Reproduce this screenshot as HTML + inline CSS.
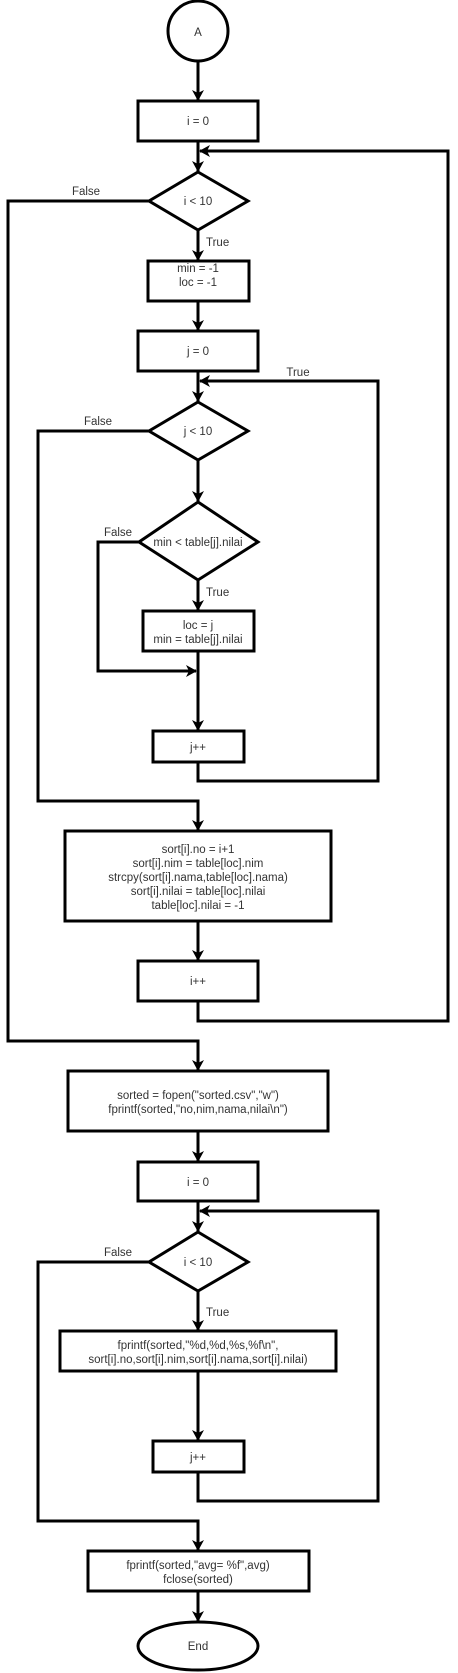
<!DOCTYPE html>
<html><head><meta charset="utf-8"><style>
html,body{margin:0;padding:0;background:#fff;}
svg{display:block;}
text{font-family:"Liberation Sans",Arial,sans-serif;font-size:11.5px;fill:#333;text-anchor:middle;}
.l{text-anchor:start;}
</style></head><body>
<svg width="458" height="1673" viewBox="0 0 458 1673" xmlns="http://www.w3.org/2000/svg">
<defs>
<marker id="a" markerWidth="12" markerHeight="12" refX="10" refY="6" orient="auto" markerUnits="userSpaceOnUse">
<path d="M0,0 L11,6 L0,12 L3,6 Z" fill="#000"/>
</marker>
</defs>
<g fill="none" stroke="#000" stroke-width="3">
<circle cx="198" cy="31" r="30" fill="#fff"/>
<line x1="198" y1="61" x2="198" y2="100" marker-end="url(#a)"/>
<rect x="138" y="101" width="120" height="40"/>
<line x1="198" y1="141" x2="198" y2="171" marker-end="url(#a)"/>
<polyline points="198,1001 198,1021 448,1021 448,151 200,151" marker-end="url(#a)"/>
<polygon points="198,172 248,201 198,230 149,201"/>
<line x1="198" y1="230" x2="198" y2="260" marker-end="url(#a)"/>
<polyline points="149,201 8,201 8,1041 198,1041 198,1070" marker-end="url(#a)"/>
<rect x="148" y="261" width="101" height="40"/>
<line x1="198" y1="301" x2="198" y2="330" marker-end="url(#a)"/>
<rect x="138" y="331" width="120" height="40"/>
<line x1="198" y1="371" x2="198" y2="401" marker-end="url(#a)"/>
<polyline points="198,762 198,781 378,781 378,381 200,381" marker-end="url(#a)"/>
<polygon points="198,402 248,431 198,460 149,431"/>
<line x1="198" y1="460" x2="198" y2="501" marker-end="url(#a)"/>
<polyline points="149,431 38,431 38,801 198,801 198,830" marker-end="url(#a)"/>
<polygon points="198,502 258,542 198,580 139,542"/>
<line x1="198" y1="580" x2="198" y2="610" marker-end="url(#a)"/>
<polyline points="139,542 98,542 98,671 196,671" marker-end="url(#a)"/>
<rect x="143" y="611" width="111" height="40"/>
<line x1="198" y1="651" x2="198" y2="730" marker-end="url(#a)"/>
<rect x="153" y="731" width="91" height="31"/>
<rect x="65" y="831" width="266" height="90"/>
<line x1="198" y1="921" x2="198" y2="960" marker-end="url(#a)"/>
<rect x="138" y="961" width="120" height="40"/>
<rect x="68" y="1071" width="260" height="60"/>
<line x1="198" y1="1131" x2="198" y2="1161" marker-end="url(#a)"/>
<rect x="138" y="1162" width="120" height="39"/>
<line x1="198" y1="1201" x2="198" y2="1231" marker-end="url(#a)"/>
<polyline points="198,1472 198,1501 378,1501 378,1211 200,1211" marker-end="url(#a)"/>
<polygon points="198,1232 248,1262 198,1291 149,1262"/>
<line x1="198" y1="1291" x2="198" y2="1330" marker-end="url(#a)"/>
<polyline points="149,1262 38,1262 38,1521 198,1521 198,1550" marker-end="url(#a)"/>
<rect x="60" y="1331" width="276" height="40"/>
<line x1="198" y1="1371" x2="198" y2="1440" marker-end="url(#a)"/>
<rect x="153" y="1441" width="91" height="31"/>
<rect x="88" y="1551" width="221" height="40"/>
<line x1="198" y1="1591" x2="198" y2="1621" marker-end="url(#a)"/>
<ellipse cx="198" cy="1646" rx="60" ry="24"/>
</g>
<text x="198" y="36">A</text>
<text x="198" y="125">i = 0</text>
<text x="198" y="205">i &lt; 10</text>
<text x="86" y="195">False</text>
<text x="206" y="246" class="l">True</text>
<text x="198" y="272">min = -1</text>
<text x="198" y="286">loc = -1</text>
<text x="198" y="355">j = 0</text>
<text x="298" y="376">True</text>
<text x="198" y="435">j &lt; 10</text>
<text x="98" y="425">False</text>
<text x="198" y="546">min &lt; table[j].nilai</text>
<text x="118" y="536">False</text>
<text x="206" y="596" class="l">True</text>
<text x="198" y="629">loc = j</text>
<text x="198" y="643">min = table[j].nilai</text>
<text x="198" y="751">j++</text>
<text x="198" y="853">sort[i].no = i+1</text>
<text x="198" y="867">sort[i].nim = table[loc].nim</text>
<text x="198" y="881">strcpy(sort[i].nama,table[loc].nama)</text>
<text x="198" y="895">sort[i].nilai = table[loc].nilai</text>
<text x="198" y="909">table[loc].nilai = -1</text>
<text x="198" y="985">i++</text>
<text x="198" y="1099">sorted = fopen("sorted.csv","w")</text>
<text x="198" y="1113">fprintf(sorted,"no,nim,nama,nilai\n")</text>
<text x="198" y="1186">i = 0</text>
<text x="198" y="1266">i &lt; 10</text>
<text x="118" y="1256">False</text>
<text x="206" y="1316" class="l">True</text>
<text x="198" y="1349">fprintf(sorted,"%d,%d,%s,%f\n",</text>
<text x="198" y="1363">sort[i].no,sort[i].nim,sort[i].nama,sort[i].nilai)</text>
<text x="198" y="1461">j++</text>
<text x="198" y="1569">fprintf(sorted,"avg= %f",avg)</text>
<text x="198" y="1583">fclose(sorted)</text>
<text x="198" y="1650">End</text>
</svg>
</body></html>
